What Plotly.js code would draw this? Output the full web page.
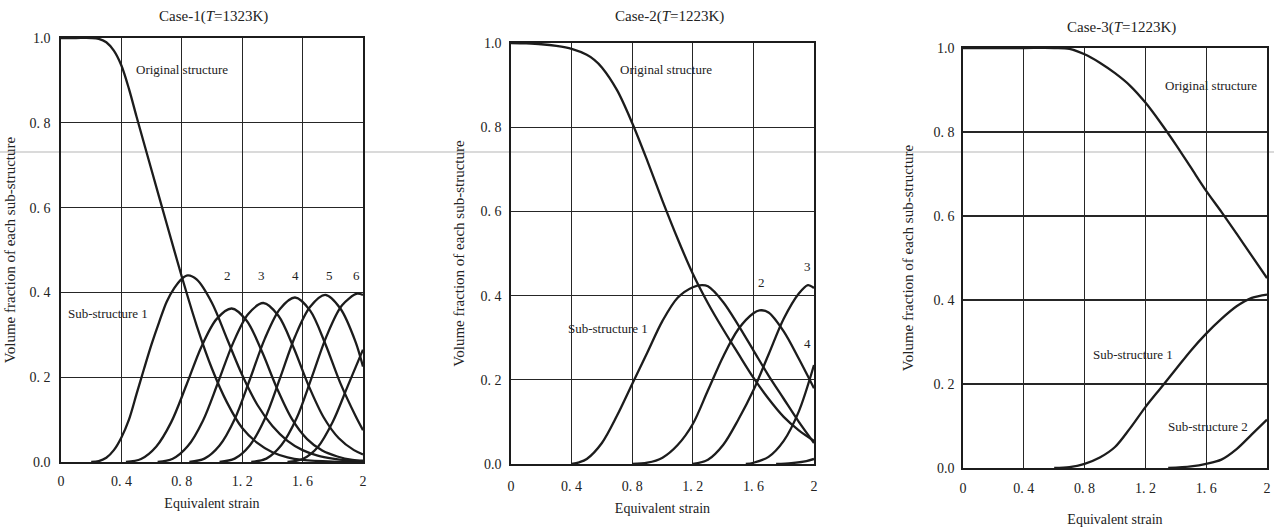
<!DOCTYPE html>
<html>
<head>
<meta charset="utf-8">
<script src="https://cdn.plot.ly/plotly-3.0.1.min.js"></script>
<style>html,body{margin:0;padding:0;background:#fff}#chart{width:1274px;height:527px}</style>
</head>
<body>
<div id="chart"></div>
<script>
// ---------- Tick labels ----------
const xTickVals = [0, 0.4, 0.8, 1.2, 1.6, 2];
const xTickText = ['0', '0. 4', '0. 8', '1. 2', '1. 6', '2'];
const yTickVals = [0, 0.2, 0.4, 0.6, 0.8, 1.0];
const yTickText = ['0.0', '0. 2', '0. 4', '0. 6', '0. 8', '1.0'];

// ---------- Case-1 (T=1323K) ----------
const c1_x_orig = [0, 0.1, 0.2, 0.25, 0.3, 0.35, 0.4, 0.45, 0.5, 0.6, 0.7, 0.8, 0.9, 1.0, 1.1, 1.2, 1.3, 1.4, 1.5, 1.6, 1.8, 2.0];
const c1_orig   = [1, 1, 1, 0.998, 0.99, 0.97, 0.935, 0.88, 0.815, 0.688, 0.562, 0.437, 0.32, 0.22, 0.14, 0.08, 0.045, 0.023, 0.011, 0.005, 0.001, 0];
const c1_x_s1 = [0.2, 0.25, 0.3, 0.35, 0.4, 0.45, 0.5, 0.55, 0.6, 0.65, 0.7, 0.75, 0.8, 0.84, 0.9, 1.0, 1.1, 1.2, 1.3, 1.4, 1.5, 1.6, 1.7, 1.8, 1.9, 2.0];
const c1_s1   = [0, 0.002, 0.01, 0.028, 0.058, 0.1, 0.16, 0.22, 0.278, 0.33, 0.378, 0.41, 0.432, 0.44, 0.43, 0.375, 0.29, 0.205, 0.135, 0.085, 0.05, 0.028, 0.015, 0.008, 0.004, 0.002];
const c1_x_s2 = [0.43, 0.53, 0.63, 0.73, 0.83, 0.93, 1.03, 1.13, 1.23, 1.33, 1.43, 1.53, 1.63, 1.73, 1.83, 1.93, 2.0];
const c1_s2   = [0, 0.007, 0.036, 0.094, 0.181, 0.272, 0.337, 0.362, 0.333, 0.261, 0.174, 0.101, 0.054, 0.027, 0.013, 0.005, 0.003];
const c1_x_s3 = [0.64, 0.74, 0.84, 0.94, 1.04, 1.14, 1.24, 1.34, 1.44, 1.54, 1.64, 1.74, 1.84, 1.94, 2.0];
const c1_s3   = [0, 0.0075, 0.0375, 0.0975, 0.1875, 0.281, 0.349, 0.375, 0.345, 0.27, 0.18, 0.105, 0.056, 0.028, 0.018];
const c1_x_s4 = [0.85, 0.95, 1.05, 1.15, 1.25, 1.35, 1.45, 1.55, 1.65, 1.75, 1.85, 1.95, 2.0];
const c1_s4   = [0, 0.008, 0.039, 0.101, 0.194, 0.291, 0.361, 0.388, 0.357, 0.279, 0.186, 0.109, 0.075];
const c1_x_s5 = [1.05, 1.15, 1.25, 1.35, 1.45, 1.55, 1.65, 1.75, 1.85, 1.95, 2.0];
const c1_s5   = [0, 0.008, 0.039, 0.102, 0.197, 0.296, 0.366, 0.394, 0.362, 0.284, 0.225];
const c1_x_s6 = [1.26, 1.36, 1.46, 1.56, 1.66, 1.76, 1.86, 1.96, 2.0];
const c1_s6   = [0, 0.008, 0.04, 0.103, 0.199, 0.298, 0.369, 0.397, 0.394];
const c1_x_s7 = [1.5, 1.6, 1.7, 1.8, 1.9, 2.0];
const c1_s7   = [0, 0.007, 0.035, 0.095, 0.18, 0.265];

// ---------- Case-2 (T=1223K) ----------
const c2_x_orig = [0, 0.1, 0.2, 0.3, 0.4, 0.5, 0.55, 0.6, 0.7, 0.8, 0.9, 1.0, 1.1, 1.2, 1.3, 1.4, 1.5, 1.6, 1.7, 1.8, 1.9, 2.0];
const c2_orig   = [1.0, 0.999, 0.997, 0.993, 0.986, 0.972, 0.96, 0.942, 0.888, 0.81, 0.72, 0.625, 0.535, 0.452, 0.382, 0.32, 0.262, 0.205, 0.155, 0.112, 0.08, 0.055];
const c2_x_s1 = [0.4, 0.45, 0.5, 0.6, 0.7, 0.8, 0.9, 1.0, 1.1, 1.2, 1.26, 1.3, 1.4, 1.5, 1.6, 1.7, 1.8, 1.9, 2.0];
const c2_s1   = [0, 0.004, 0.012, 0.05, 0.115, 0.19, 0.265, 0.34, 0.395, 0.42, 0.425, 0.422, 0.385, 0.33, 0.27, 0.21, 0.155, 0.1, 0.05];
const c2_x_s2 = [0.8, 0.9, 1.0, 1.1, 1.2, 1.3, 1.4, 1.5, 1.6, 1.64, 1.7, 1.8, 1.9, 2.0];
const c2_s2   = [0, 0.003, 0.015, 0.045, 0.095, 0.175, 0.255, 0.32, 0.358, 0.365, 0.36, 0.315, 0.25, 0.18];
const c2_x_s3 = [1.2, 1.3, 1.4, 1.5, 1.6, 1.7, 1.8, 1.9, 1.96, 2.0];
const c2_s3   = [0, 0.01, 0.045, 0.105, 0.175, 0.26, 0.345, 0.405, 0.425, 0.418];
const c2_x_s4 = [1.55, 1.6, 1.7, 1.8, 1.9, 2.0];
const c2_s4   = [0, 0.003, 0.017, 0.055, 0.125, 0.235];
const c2_x_s5 = [1.75, 1.85, 1.95, 2.0];
const c2_s5   = [0, 0.002, 0.007, 0.012];

// ---------- Case-3 (T=1223K) ----------
const c3_x_orig = [0, 0.2, 0.4, 0.6, 0.7, 0.8, 0.9, 1.0, 1.1, 1.2, 1.3, 1.4, 1.5, 1.6, 1.7, 1.8, 1.9, 2.0];
const c3_orig   = [1, 1, 1, 1, 0.998, 0.985, 0.965, 0.94, 0.91, 0.87, 0.822, 0.77, 0.715, 0.66, 0.61, 0.558, 0.505, 0.452];
const c3_x_s1 = [0.6, 0.7, 0.8, 0.9, 1.0, 1.1, 1.2, 1.3, 1.4, 1.5, 1.6, 1.7, 1.8, 1.9, 2.0];
const c3_s1   = [0, 0.002, 0.01, 0.025, 0.05, 0.095, 0.145, 0.19, 0.235, 0.28, 0.32, 0.355, 0.385, 0.405, 0.413];
const c3_x_s2 = [1.35, 1.5, 1.6, 1.7, 1.8, 1.9, 2.0];
const c3_s2   = [0, 0.004, 0.01, 0.02, 0.045, 0.08, 0.115];

// ---------- Labels ----------
const titles = ['Case-1(<i>T</i>=1323K)', 'Case-2(<i>T</i>=1223K)', 'Case-3(<i>T</i>=1223K)'];
const xTitle = 'Equivalent strain';
const yTitle = 'Volume fraction of each sub-structure';
const c1_labels = [
  {t: 'Original structure', x: 0.80, y: 0.925},
  {t: 'Sub-structure 1', x: 0.31, y: 0.35},
  {t: '2', x: 1.105, y: 0.44}, {t: '3', x: 1.33, y: 0.44}, {t: '4', x: 1.55, y: 0.44},
  {t: '5', x: 1.775, y: 0.44}, {t: '6', x: 1.96, y: 0.44}
];
const c2_labels = [
  {t: 'Original structure', x: 1.02, y: 0.936},
  {t: 'Sub-structure 1', x: 0.64, y: 0.323},
  {t: '2', x: 1.655, y: 0.43}, {t: '3', x: 1.96, y: 0.468}, {t: '4', x: 1.96, y: 0.287}
];
const c3_labels = [
  {t: 'Original structure', x: 1.63, y: 0.91},
  {t: 'Sub-structure 1', x: 1.12, y: 0.27},
  {t: 'Sub-structure 2', x: 1.61, y: 0.10}
];

// ---------- Build ----------
const FONT = 'Liberation Serif, Times New Roman, serif';
const INK = '#1c1c1c';
function line(x, y, xa, ya, name) {
  return {x: x, y: y, xaxis: xa, yaxis: ya, name: name, type: 'scatter', mode: 'lines',
    line: {color: INK, width: 2.3, shape: 'spline', smoothing: 0.9}, hoverinfo: 'x+y+name', showlegend: false};
}
const data = [
  line(c1_x_orig, c1_orig, 'x', 'y', 'Original structure'),
  line(c1_x_s1, c1_s1, 'x', 'y', 'Sub-structure 1'),
  line(c1_x_s2, c1_s2, 'x', 'y', 'Sub-structure 2'),
  line(c1_x_s3, c1_s3, 'x', 'y', 'Sub-structure 3'),
  line(c1_x_s4, c1_s4, 'x', 'y', 'Sub-structure 4'),
  line(c1_x_s5, c1_s5, 'x', 'y', 'Sub-structure 5'),
  line(c1_x_s6, c1_s6, 'x', 'y', 'Sub-structure 6'),
  line(c1_x_s7, c1_s7, 'x', 'y', 'Sub-structure 7'),
  line(c2_x_orig, c2_orig, 'x2', 'y2', 'Original structure'),
  line(c2_x_s1, c2_s1, 'x2', 'y2', 'Sub-structure 1'),
  line(c2_x_s2, c2_s2, 'x2', 'y2', 'Sub-structure 2'),
  line(c2_x_s3, c2_s3, 'x2', 'y2', 'Sub-structure 3'),
  line(c2_x_s4, c2_s4, 'x2', 'y2', 'Sub-structure 4'),
  line(c2_x_s5, c2_s5, 'x2', 'y2', 'Sub-structure 5'),
  line(c3_x_orig, c3_orig, 'x3', 'y3', 'Original structure'),
  line(c3_x_s1, c3_s1, 'x3', 'y3', 'Sub-structure 1'),
  line(c3_x_s2, c3_s2, 'x3', 'y3', 'Sub-structure 2')
];

const W = 1274, H = 527;
function xAxis(l, r, anchor, tickStand, titleStand) {
  return {domain: [l / W, r / W], anchor: anchor, range: [0, 2], tickvals: xTickVals, ticktext: xTickText,
    showgrid: true, gridcolor: '#262626', gridwidth: 1.3, zeroline: false,
    showline: true, linecolor: INK, linewidth: 1.8, mirror: true, ticks: '', ticklabelstandoff: tickStand,
    tickfont: {family: FONT, size: 14, color: '#222'},
    title: {text: xTitle, font: {family: FONT, size: 14, color: '#222'}, standoff: titleStand}, fixedrange: true};
}
function yAxis(t, b, anchor, tickStand, titleStand) {
  return {domain: [1 - b / H, 1 - t / H], anchor: anchor, range: [0, 1], tickvals: yTickVals, ticktext: yTickText,
    showgrid: true, gridcolor: '#262626', gridwidth: 1.3, zeroline: false,
    showline: true, linecolor: INK, linewidth: 1.8, mirror: true, ticks: '', ticklabelstandoff: tickStand,
    tickfont: {family: FONT, size: 14, color: '#222'},
    title: {text: yTitle, font: {family: FONT, size: 15, color: '#222'}, standoff: titleStand}, fixedrange: true};
}

function ann(list, xr, yr) {
  return list.map(a => ({text: a.t, x: a.x, y: a.y, xref: xr, yref: yr, showarrow: false,
    xanchor: 'center', yanchor: 'middle', font: {family: FONT, size: 13, color: '#222'}}));
}
const annotations = [].concat(
  ann(c1_labels, 'x', 'y'), ann(c2_labels, 'x2', 'y2'), ann(c3_labels, 'x3', 'y3'),
  [
    {text: titles[0], x: 213 / W, y: 1 - 17 / H, xref: 'paper', yref: 'paper', showarrow: false, xanchor: 'center', yanchor: 'middle', font: {family: FONT, size: 15, color: '#222'}},
    {text: titles[1], x: 669 / W, y: 1 - 17 / H, xref: 'paper', yref: 'paper', showarrow: false, xanchor: 'center', yanchor: 'middle', font: {family: FONT, size: 15, color: '#222'}},
    {text: titles[2], x: 1121 / W, y: 1 - 28 / H, xref: 'paper', yref: 'paper', showarrow: false, xanchor: 'center', yanchor: 'middle', font: {family: FONT, size: 15, color: '#222'}}
  ]
);

const layout = {
  width: W, height: H, margin: {l: 0, r: 0, t: 0, b: 0},
  paper_bgcolor: '#ffffff', plot_bgcolor: 'rgba(0,0,0,0)',
  showlegend: false,
  xaxis: xAxis(61, 363, 'y', 5, 11),
  yaxis: yAxis(38, 462, 'x', 6, 10),
  xaxis2: xAxis(511, 814, 'y2', 8, 11),
  yaxis2: yAxis(43, 464, 'x2', 5, 12),
  xaxis3: xAxis(963, 1267, 'y3', 6, 21),
  yaxis3: yAxis(48, 468, 'x3', 4, 16),
  annotations: annotations,
  shapes: [
    {type: 'line', xref: 'paper', yref: 'paper', x0: 0, x1: 1, y0: 1 - 152 / H, y1: 1 - 152 / H, layer: 'below',
     line: {color: '#dadada', width: 2}}
  ]
};

Plotly.newPlot('chart', data, layout, {displayModeBar: false, staticPlot: true});
</script>
</body>
</html>
